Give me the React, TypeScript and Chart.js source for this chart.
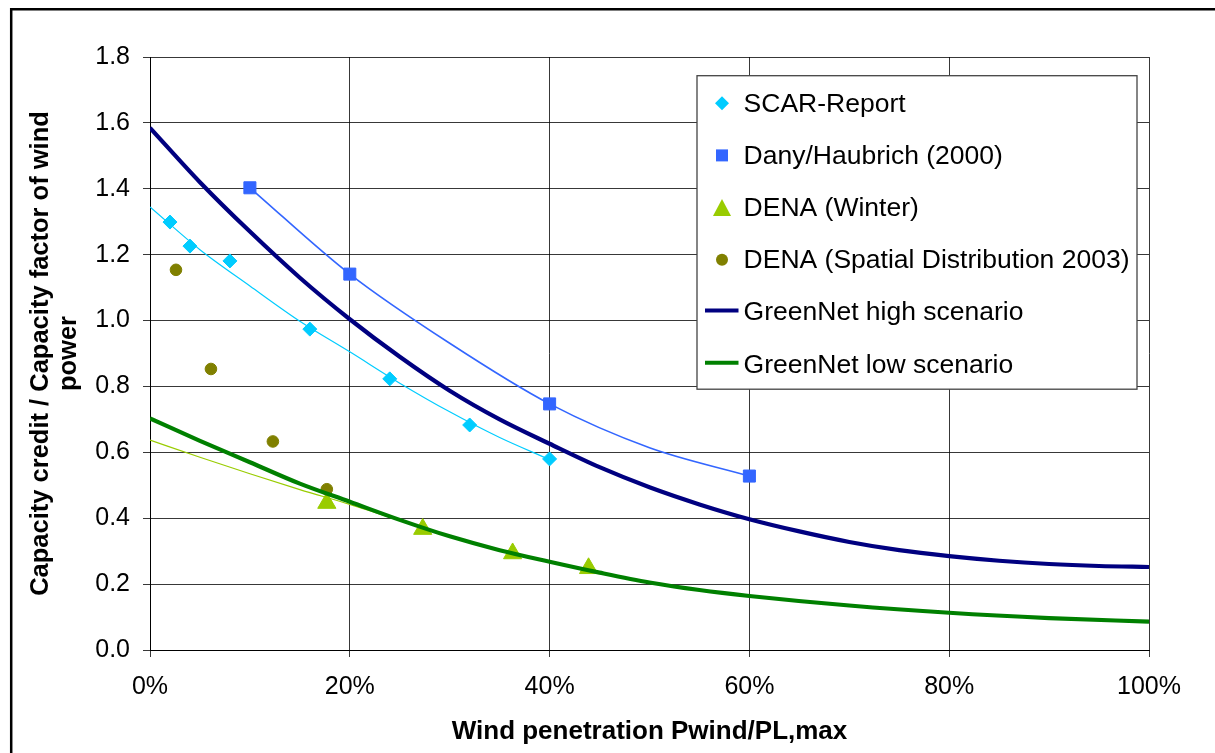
import React, { useEffect, useRef } from 'react';
import { Chart, registerables } from 'chart.js';

Chart.register(...registerables);

const FONT = "'Liberation Sans', Arial, Helvetica, sans-serif";

// ---- data (x in %, y = capacity credit / capacity factor) ----
const scarX = [2, 4, 8, 16, 24, 32, 40];
const scarY = [1.299, 1.226, 1.181, 0.974, 0.823, 0.683, 0.58];

const danyX = [10, 20, 40, 60];
const danyY = [1.403, 1.141, 0.747, 0.528];

const denaWinterX = [17.7, 27.3, 36.3, 43.9];
const denaWinterY = [0.446, 0.367, 0.293, 0.248];

const denaSpatialX = [2.6, 6.1, 12.3, 17.7];
const denaSpatialY = [1.154, 0.853, 0.633, 0.488];

const highX = [0, 5, 10, 15, 20, 25, 30, 35, 40, 45, 50, 55, 60, 65, 70, 75, 80, 85, 90, 95, 100];
const highY = [1.585, 1.42, 1.27, 1.13, 1.004, 0.89, 0.787, 0.7, 0.626, 0.555, 0.494, 0.442, 0.397, 0.36, 0.328, 0.303, 0.285, 0.271, 0.261, 0.255, 0.252];

const lowX = [0, 5, 10, 15, 20, 25, 30, 35, 40, 45, 50, 55, 60, 70, 80, 90, 100];
const lowY = [0.703, 0.635, 0.57, 0.505, 0.45, 0.395, 0.345, 0.303, 0.268, 0.235, 0.205, 0.182, 0.164, 0.135, 0.113, 0.097, 0.086];

const scarTrendX = [0, 5, 10, 15, 20, 25, 30, 35, 40];
const scarTrendY = [1.345, 1.215, 1.105, 0.998, 0.905, 0.81, 0.723, 0.645, 0.578];

const danyTrendX = [10, 20, 30, 40, 50, 60];
const danyTrendY = [1.403, 1.141, 0.931, 0.747, 0.614, 0.528];

const winterTrendX = [0, 5, 10, 15, 20, 30, 40, 50, 60, 70, 80, 90, 100];
const winterTrendY = [0.637, 0.585, 0.535, 0.487, 0.442, 0.345, 0.268, 0.205, 0.163, 0.134, 0.112, 0.096, 0.085];

const xTickStep = 20;
const yTickStep = 0.2;

const legendLabels = [
  'SCAR-Report',
  'Dany/Haubrich (2000)',
  'DENA (Winter)',
  'DENA (Spatial Distribution 2003)',
  'GreenNet high scenario',
  'GreenNet low scenario',
];
const xTitle = 'Wind penetration Pwind/PL,max';
const yTitle = ['Capacity credit / Capacity factor of wind', 'power'];

const CYAN = 'rgb(0,204,255)';
const BLUE = 'rgb(51,102,255)';
const YGREEN = 'rgb(153,204,0)';
const OLIVE = 'rgb(128,128,0)';
const NAVY = 'rgb(0,0,128)';
const GREEN = 'rgb(0,128,0)';

const legendStyles = [
  { kind: 'diamond', color: CYAN },
  { kind: 'square', color: BLUE },
  { kind: 'triangle', color: YGREEN },
  { kind: 'circle', color: OLIVE },
  { kind: 'line', color: NAVY },
  { kind: 'line', color: GREEN },
];

const pts = (xs: number[], ys: number[]) => xs.map((x, i) => ({ x, y: ys[i] }));

const frameAndLegend = {
  id: 'frameAndLegend',
  beforeDraw(chart: any) {
    const ctx = chart.ctx;
    ctx.save();
    ctx.fillStyle = '#fff';
    ctx.fillRect(0, 0, chart.width, chart.height);
    ctx.strokeStyle = '#000';
    ctx.lineWidth = 2.5;
    ctx.beginPath();
    ctx.moveTo(11.2, chart.height + 10);
    ctx.lineTo(11.2, 9.3);
    ctx.lineTo(chart.width + 10, 9.3);
    ctx.stroke();
    ctx.restore();
  },
  afterDraw(chart: any) {
    const ctx = chart.ctx;
    const { left, top } = chart.chartArea;
    const bx = left + 547;
    const by = top + 18.7;
    const bw = 440;
    const bh = 313.5;
    ctx.save();
    ctx.fillStyle = '#fff';
    ctx.fillRect(bx, by, bw, bh);
    ctx.strokeStyle = '#444';
    ctx.lineWidth = 1.3;
    ctx.strokeRect(bx, by, bw, bh);
    const rowY0 = by + 27.5;
    const rowStep = 52.2;
    const mx = bx + 25;
    ctx.font = `26.5px ${FONT}`;
    ctx.textBaseline = 'middle';
    ctx.textAlign = 'left';
    legendLabels.forEach((label, i) => {
      const y = rowY0 + i * rowStep;
      const st = legendStyles[i];
      ctx.fillStyle = st.color;
      ctx.strokeStyle = st.color;
      ctx.beginPath();
      if (st.kind === 'diamond') {
        const r = 7;
        ctx.moveTo(mx - r, y);
        ctx.lineTo(mx, y - r);
        ctx.lineTo(mx + r, y);
        ctx.lineTo(mx, y + r);
        ctx.closePath();
        ctx.fill();
      } else if (st.kind === 'square') {
        ctx.rect(mx - 6, y - 6, 12, 12);
        ctx.fill();
      } else if (st.kind === 'triangle') {
        ctx.moveTo(mx, y - 8.5);
        ctx.lineTo(mx + 9, y + 8.5);
        ctx.lineTo(mx - 9, y + 8.5);
        ctx.closePath();
        ctx.fill();
      } else if (st.kind === 'circle') {
        ctx.arc(mx, y, 6, 0, Math.PI * 2);
        ctx.fill();
      } else {
        ctx.lineWidth = 4;
        ctx.moveTo(bx + 8, y - 1.5);
        ctx.lineTo(bx + 41.5, y - 1.5);
        ctx.stroke();
      }
      ctx.fillStyle = '#000';
      ctx.fillText(label, bx + 46.6, y + 1);
    });
    ctx.restore();
  },
};

export default function App() {
  const canvasRef = useRef<HTMLCanvasElement | null>(null);

  useEffect(() => {
    const canvas = canvasRef.current;
    if (!canvas) return;
    const curve = (label: string, xs: number[], ys: number[], color: string, width: number) => ({
      label,
      data: pts(xs, ys),
      showLine: true,
      borderColor: color,
      backgroundColor: color,
      borderWidth: width,
      pointRadius: 0,
      pointHoverRadius: 0,
      cubicInterpolationMode: 'monotone',
      fill: false,
    });
    const markers = (label: string, xs: number[], ys: number[], color: string, style: string, radius: number) => ({
      label,
      data: pts(xs, ys),
      showLine: false,
      pointStyle: style,
      pointRadius: radius,
      pointHoverRadius: radius,
      pointBackgroundColor: color,
      pointBorderColor: color,
      pointBorderWidth: 1,
      backgroundColor: color,
      borderColor: color,
    });

    const chart = new Chart(canvas, {
      type: 'scatter',
      data: {
        datasets: [
          curve(legendLabels[5], lowX, lowY, GREEN, 4.2),
          curve(legendLabels[4], highX, highY, NAVY, 4.2),
          markers(legendLabels[3], denaSpatialX, denaSpatialY, OLIVE, 'circle', 5.8),
          markers(legendLabels[2], denaWinterX, denaWinterY, YGREEN, 'triangle', 10.5),
          markers(legendLabels[0], scarX, scarY, CYAN, 'rectRot', 7),
          markers(legendLabels[1], danyX, danyY, BLUE, 'rect', 8.5),
          curve('SCAR trend', scarTrendX, scarTrendY, CYAN, 1.2),
          curve('Dany trend', danyTrendX, danyTrendY, BLUE, 1.6),
          curve('DENA winter trend', winterTrendX, winterTrendY, YGREEN, 1.2),
        ] as any,
      },
      options: {
        responsive: false,
        maintainAspectRatio: false,
        animation: false,
        devicePixelRatio: 1,
        events: [],
        layout: { padding: { top: 57, right: 66, bottom: 0, left: 0 } },
        plugins: {
          legend: { display: false },
          tooltip: { enabled: false },
        },
        scales: {
          x: {
            type: 'linear',
            min: 0,
            max: 100,
            afterFit: (s: any) => {
              s.height = 103;
            },
            ticks: {
              stepSize: xTickStep,
              color: '#000',
              padding: 15,
              font: { family: FONT, size: 25 },
              callback: (v: any) => `${v}%`,
              maxRotation: 0,
            },
            grid: {
              color: 'rgba(0,0,0,0.78)',
              lineWidth: 1,
              tickLength: 7,
              drawTicks: true,
            },
            border: { color: '#000', width: 1 },
            title: {
              display: true,
              text: xTitle,
              color: '#000',
              font: { family: FONT, size: 26, weight: 'bold' },
              padding: { top: 0, bottom: 6 },
            },
          },
          y: {
            type: 'linear',
            min: 0,
            max: 1.8,
            afterFit: (s: any) => {
              s.width = 150;
            },
            ticks: {
              stepSize: yTickStep,
              color: '#000',
              padding: 13,
              font: { family: FONT, size: 25 },
              callback: (v: any) => Number(v).toFixed(1),
            },
            grid: {
              color: 'rgba(0,0,0,0.78)',
              lineWidth: 1,
              tickLength: 7,
              drawTicks: true,
            },
            border: { color: '#000', width: 1 },
            title: {
              display: true,
              text: yTitle,
              color: '#000',
              font: { family: FONT, size: 25.5, weight: 'bold', lineHeight: 1.1 },
              padding: { top: 27, bottom: 0 },
            },
          },
        },
      } as any,
      plugins: [frameAndLegend],
    });
    return () => chart.destroy();
  }, []);

  return (
    <div style={{ position: 'fixed', left: 0, top: 0, width: 1215, height: 753, background: '#fff' }}>
      <canvas ref={canvasRef} width={1215} height={753} style={{ width: 1215, height: 753, display: 'block' }} />
    </div>
  );
}
